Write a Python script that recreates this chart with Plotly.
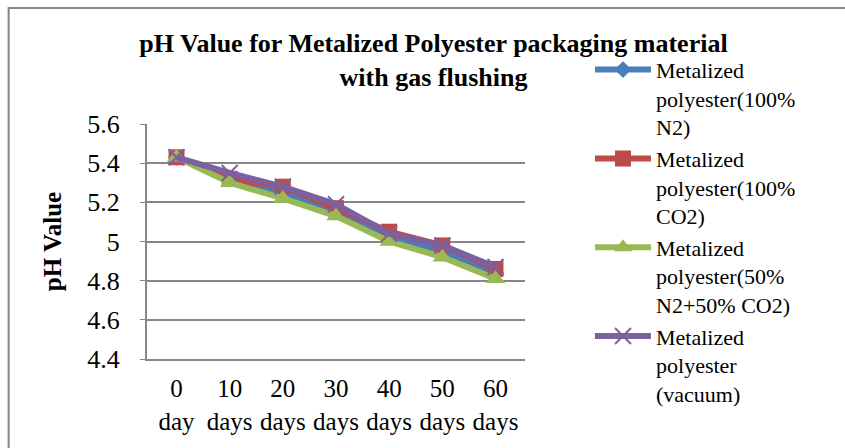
import plotly.graph_objects as go

categories = ["0<br>day", "10<br>days", "20<br>days", "30<br>days", "40<br>days", "50<br>days", "60<br>days"]
n2 = [5.43, 5.32, 5.25, 5.15, 5.02, 4.95, 4.84]
co2 = [5.43, 5.32, 5.28, 5.17, 5.05, 4.98, 4.86]
mix = [5.43, 5.30, 5.22, 5.13, 5.00, 4.92, 4.81]
vac = [5.43, 5.35, 5.28, 5.19, 5.04, 4.98, 4.87]
ytick_vals = [4.4, 4.6, 4.8, 5.0, 5.2, 5.4, 5.6]
ytick_text = ["4.4", "4.6", "4.8", "5", "5.2", "5.4", "5.6"]

names = ["Metalized<br>polyester(100%<br>N2)",
         "Metalized<br>polyester(100%<br>CO2)",
         "Metalized<br>polyester(50%<br>N2+50% CO2)",
         "Metalized<br>polyester<br>(vacuum)"]
colors = ["#4A7EBB", "#BE4B48", "#98B954", "#7D60A0"]
symbols = ["diamond", "square", "triangle-up", "x-thin"]
sizes = [13, 16, 17, 16]
series = [n2, co2, mix, vac]

FONT = "Liberation Serif, Times New Roman, serif"
fig = go.Figure()
for name, c, s, sz, ys in zip(names, colors, symbols, sizes, series):
    marker = dict(symbol=s, size=sz, color=c)
    if s == "x-thin":
        marker["line"] = dict(color=c, width=2)
    fig.add_trace(go.Scatter(x=categories, y=ys, name=name, mode="lines+markers",
                             line=dict(color=c, width=6), marker=marker))

fig.update_layout(
    width=845, height=448,
    margin=dict(l=147, r=320, t=124, b=89),
    paper_bgcolor="white", plot_bgcolor="white",
    font=dict(family=FONT, size=24, color="black"),
    title=dict(text="<b>pH Value for Metalized Polyester packaging material<br>with gas flushing</b>",
               x=0.513, xanchor="center", y=0.884, yanchor="top",
               font=dict(family=FONT, size=26, color="black")),
    legend=dict(x=1.172, y=1.32, xanchor="left", yanchor="top", valign="top",
                font=dict(family=FONT, size=22, color="black"),
                itemwidth=56, tracegroupgap=0, bgcolor="rgba(0,0,0,0)", maxheight=448),
    showlegend=True,
)
fig.update_xaxes(showgrid=False, showline=True, linecolor="#868686", linewidth=2,
                 ticks="", tickfont=dict(family=FONT, size=25), ticklabelstandoff=6)
fig.update_yaxes(range=[4.4, 5.6], tickvals=ytick_vals, ticktext=ytick_text,
                 showgrid=True, gridcolor="#868686", gridwidth=2,
                 showline=True, linecolor="#868686", linewidth=2,
                 ticks="outside", ticklen=5, tickcolor="#868686",
                 tickfont=dict(family=FONT, size=26), ticklabelstandoff=15,
                 zeroline=False,
                 title=dict(text="<b>pH Value</b>", font=dict(family=FONT, size=25), standoff=19))
fig.add_shape(type="rect", xref="paper", yref="paper", x0=-0.366, x1=3, y0=-2, y1=1.494,
              line=dict(color="#868686", width=2), fillcolor="rgba(0,0,0,0)", layer="below")
fig.write_html("out.html")
